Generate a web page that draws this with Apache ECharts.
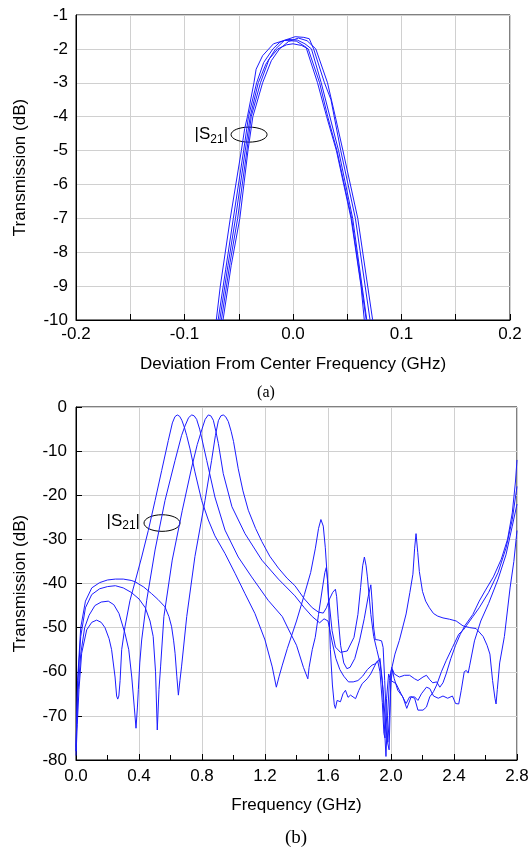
<!DOCTYPE html>
<html><head><meta charset="utf-8">
<script src="https://cdn.jsdelivr.net/npm/echarts/dist/echarts.min.js"></script>
<style>html,body{margin:0;padding:0;background:#fff}#c{width:532px;height:850px}</style>
</head><body><div id="c"></div>
<script>
// ---------- Panel (a): deviation from centre frequency (GHz) vs |S21| (dB) ----------
const topXLabelValues = [-0.2, -0.1, 0.0, 0.1, 0.2];
const topXLabels = ['-0.2', '-0.1', '0.0', '0.1', '0.2'];
const topYLabels = ['-1','-2','-3','-4','-5','-6','-7','-8','-9','-10'];

const topCurve1 = [[-0.0707,-10],[-0.067,-9],[-0.0578,-7],[-0.0476,-5],[-0.0445,-4.35],[-0.042,-4.0],[-0.036,-3.0],[-0.034,-2.6],[-0.028,-2.2],[-0.018,-1.85],[-0.008,-1.75],[0.003,-1.77],[0.012,-1.95],[0.0226,-3.0],[0.031,-4.0],[0.040,-5.0],[0.0535,-7.0],[0.0627,-9.0],[0.0657,-10]];
const topCurve2 = [[-0.069,-10],[-0.062,-8.5],[-0.055,-7],[-0.0455,-5],[-0.041,-4],[-0.0335,-3],[-0.027,-2.4],[-0.0185,-2.0],[-0.012,-1.8],[-0.005,-1.72],[0.004,-1.74],[0.011,-1.85],[0.017,-2.0],[0.026,-3.0],[0.034,-4.0],[0.042,-5.0],[0.055,-7.0],[0.068,-10]];
const topCurve3 = [[-0.0675,-10],[-0.060,-8.4],[-0.053,-7],[-0.044,-5],[-0.0395,-4],[-0.032,-3],[-0.025,-2.45],[-0.016,-2.0],[-0.008,-1.75],[0.002,-1.64],[0.010,-1.66],[0.015,-1.7],[0.019,-2.0],[0.029,-3.0],[0.035,-3.5],[0.044,-5.0],[0.0575,-7.0],[0.071,-10]];
const topCurve4 = [[-0.066,-10],[-0.058,-8.3],[-0.051,-7],[-0.0425,-5],[-0.0385,-4],[-0.030,-3],[-0.022,-2.3],[-0.014,-2.0],[-0.006,-1.88],[0.0,-1.85],[0.008,-1.9],[0.014,-2.0],[0.0245,-3.0],[0.032,-4.0],[0.0405,-5.0],[0.054,-7.0],[0.0675,-10]];
const topCurve5 = [[-0.0645,-10],[-0.057,-8.4],[-0.049,-7],[-0.0415,-5],[-0.037,-4],[-0.028,-3],[-0.020,-2.35],[-0.0124,-2.0],[-0.004,-1.78],[0.005,-1.68],[0.013,-1.76],[0.021,-2.0],[0.0318,-3.0],[0.039,-4.0],[0.046,-5.0],[0.0597,-7.0],[0.0734,-10]];

// ---------- Panel (b): frequency (GHz) vs |S21| (dB) ----------
const botXLabels = ['0.0','0.4','0.8','1.2','1.6','2.0','2.4','2.8'];
const botYLabels = ['0','-10','-20','-30','-40','-50','-60','-70','-80'];

const botCurveA = [[0.000,-79],[0.008,-72],[0.019,-64],[0.036,-55.8],[0.068,-50.5],[0.10,-48.8],[0.131,-48.3],[0.16,-48.8],[0.184,-50],[0.21,-52.5],[0.226,-55],[0.248,-61.2],[0.258,-65.5],[0.265,-66.2],[0.272,-65.5],[0.28,-62],[0.29,-55],[0.311,-49.8],[0.343,-43.8],[0.375,-39.6],[0.417,-34],[0.459,-28],[0.502,-21.2],[0.544,-14.4],[0.586,-7.6],[0.612,-3.6],[0.628,-2.2],[0.643,-1.8],[0.658,-2.1],[0.672,-3.0],[0.688,-4.6],[0.703,-6.5],[0.724,-9.5],[0.755,-14.7],[0.798,-21.2],[0.84,-25.6],[0.882,-29.2],[0.946,-33.2],[1.01,-37.7],[1.073,-42.3],[1.136,-46.8],[1.2,-52.8],[1.246,-58.9],[1.272,-63.5],[1.29,-61],[1.31,-58.5],[1.342,-54.7],[1.40,-48.5],[1.45,-42.5],[1.49,-37.5],[1.52,-32],[1.54,-27.5],[1.555,-25.5],[1.57,-27],[1.583,-31.9],[1.604,-43.2],[1.626,-50.7],[1.647,-54.4],[1.679,-55.6],[1.722,-55.3],[1.765,-52.2],[1.79,-47],[1.807,-40.9],[1.82,-36],[1.831,-34],[1.842,-36],[1.85,-38.5],[1.872,-47],[1.89,-52],[1.91,-55],[1.93,-58],[1.95,-64],[1.965,-72],[1.978,-76],[1.988,-77.7],[1.995,-68],[2.0,-60],[2.025,-56],[2.053,-52.9],[2.096,-46.9],[2.12,-42],[2.139,-37.9],[2.15,-32],[2.159,-28.7],[2.17,-33],[2.18,-37.3],[2.2,-41.8],[2.22,-44],[2.244,-45.5],[2.27,-46.8],[2.297,-47.4],[2.33,-47.8],[2.372,-48.1],[2.414,-48.5],[2.457,-49.6],[2.5,-50],[2.54,-50.2],[2.585,-52],[2.61,-54],[2.628,-56],[2.645,-62],[2.66,-66],[2.667,-67.3],[2.675,-64],[2.69,-58],[2.72,-52],[2.756,-41],[2.78,-35],[2.8,-28]];

const botCurveB = [[0.000,-77],[0.01,-66],[0.03,-56],[0.055,-50],[0.083,-47.2],[0.12,-45],[0.16,-44.2],[0.205,-44],[0.24,-44.8],[0.273,-46.8],[0.311,-51.3],[0.335,-55],[0.354,-61.2],[0.37,-68],[0.381,-72.8],[0.39,-68],[0.396,-64],[0.405,-58],[0.417,-52.8],[0.449,-43.8],[0.502,-32.4],[0.565,-21.2],[0.629,-12.1],[0.67,-6.5],[0.692,-4.3],[0.715,-2.4],[0.735,-1.8],[0.75,-2.0],[0.766,-2.8],[0.785,-5],[0.798,-7],[0.83,-12.1],[0.882,-20.4],[0.946,-27.9],[1.03,-34],[1.115,-38.5],[1.22,-43.8],[1.31,-47.5],[1.348,-50.3],[1.40,-54],[1.444,-59],[1.472,-61.6],[1.48,-59],[1.50,-55],[1.519,-52.2],[1.54,-47],[1.562,-41.7],[1.58,-37.5],[1.589,-36.4],[1.597,-39],[1.605,-45],[1.615,-55],[1.628,-63],[1.64,-67.5],[1.647,-68.3],[1.658,-66.5],[1.679,-66.8],[1.695,-65],[1.711,-64.2],[1.727,-65.8],[1.743,-65.3],[1.775,-66.1],[1.796,-64.2],[1.817,-62.7],[1.849,-61.6],[1.871,-60.5],[1.903,-58.2],[1.92,-57.5],[1.93,-57],[1.945,-62],[1.955,-70],[1.968,-79.2],[1.978,-70],[1.99,-62],[2.005,-59],[2.02,-61.5],[2.043,-64.2],[2.075,-65.7],[2.1,-68.3],[2.128,-65.7],[2.15,-66],[2.171,-68.7],[2.203,-68.7],[2.225,-68],[2.246,-65.7],[2.27,-64.5],[2.29,-63],[2.32,-60],[2.35,-57.5],[2.39,-54.5],[2.43,-51.5],[2.46,-50.5],[2.48,-49.5],[2.52,-47.5],[2.56,-45.5],[2.62,-42],[2.68,-37.5],[2.73,-32],[2.77,-25.5],[2.8,-18]];

const botCurveC = [[0.000,-78],[0.01,-63],[0.03,-52],[0.06,-45.5],[0.1,-42.5],[0.15,-41.2],[0.2,-40.7],[0.25,-40.5],[0.3,-41],[0.35,-42],[0.40,-43.5],[0.44,-45.5],[0.47,-48.5],[0.49,-52],[0.505,-60],[0.516,-73.2],[0.527,-64],[0.537,-58.9],[0.558,-47.5],[0.611,-34.7],[0.675,-23.4],[0.735,-13.6],[0.77,-8.5],[0.8,-5.0],[0.82,-2.8],[0.84,-1.8],[0.856,-2.0],[0.872,-3.0],[0.888,-5.5],[0.904,-8.3],[0.935,-15.1],[0.99,-22.6],[1.073,-28.7],[1.18,-34.7],[1.285,-39],[1.39,-42.8],[1.45,-45.5],[1.5,-47.5],[1.547,-48.9],[1.575,-48],[1.60,-48.5],[1.625,-53],[1.65,-57],[1.675,-59.5],[1.70,-61],[1.73,-62.3],[1.76,-62.3],[1.79,-62],[1.82,-61],[1.85,-59.5],[1.88,-58.5],[1.9,-58.2],[1.915,-57.5],[1.93,-60],[1.945,-67],[1.955,-74],[1.962,-75],[1.972,-66],[1.985,-60.5],[2.0,-62],[2.032,-62.7],[2.064,-65],[2.096,-67.2],[2.118,-65.7],[2.15,-65.7],[2.171,-66.5],[2.193,-65],[2.225,-63.5],[2.246,-63.8],[2.27,-65.5],[2.3,-66],[2.33,-65.5],[2.36,-66],[2.39,-65.5],[2.41,-67.2],[2.43,-67.3],[2.446,-64.2],[2.465,-60],[2.478,-59.7],[2.49,-60.3],[2.5,-58.5],[2.53,-53],[2.57,-48.5],[2.62,-44.5],[2.68,-39],[2.73,-33.5],[2.77,-27],[2.8,-22]];

const botCurveD = [[0.000,-78],[0.01,-62],[0.03,-50],[0.06,-44],[0.1,-41],[0.15,-39.8],[0.2,-39.2],[0.25,-39],[0.3,-39],[0.35,-39.3],[0.375,-39.6],[0.43,-40.8],[0.48,-42.3],[0.52,-43.6],[0.565,-45.3],[0.59,-47.5],[0.607,-49.8],[0.62,-53],[0.629,-55.8],[0.64,-61],[0.65,-65.3],[0.66,-62],[0.67,-58.9],[0.703,-47.5],[0.755,-33.9],[0.819,-21.2],[0.861,-12.1],[0.885,-6.5],[0.904,-3.1],[0.92,-2.0],[0.935,-1.8],[0.95,-2.2],[0.967,-3.3],[0.985,-5.5],[1.0,-7.8],[1.03,-14],[1.06,-19],[1.094,-23.4],[1.14,-27.5],[1.18,-30.5],[1.23,-33.8],[1.285,-36.5],[1.34,-38.8],[1.39,-40.5],[1.45,-43.5],[1.5,-45.5],[1.54,-46.5],[1.57,-46.7],[1.59,-45.5],[1.61,-43.5],[1.63,-42],[1.647,-41.3],[1.655,-43],[1.665,-48],[1.68,-54],[1.70,-58],[1.72,-59.3],[1.74,-59],[1.77,-57],[1.80,-53],[1.83,-48],[1.855,-43],[1.872,-40.3],[1.88,-44],[1.89,-50],[1.9,-52.7],[1.92,-52.8],[1.94,-53],[1.95,-54.5],[1.96,-62],[1.97,-70],[1.98,-76],[1.99,-70],[2.0,-62],[2.01,-59.5],[2.021,-60.5],[2.053,-61.2],[2.086,-60.8],[2.118,-60.8],[2.15,-61.6],[2.171,-62],[2.203,-61.2],[2.225,-60.8],[2.246,-61.8],[2.265,-62.5],[2.29,-62.3],[2.31,-63.5],[2.33,-62.5],[2.35,-60.5],[2.38,-57],[2.41,-54],[2.44,-51.5],[2.47,-49.5],[2.49,-48.5],[2.52,-47],[2.56,-44],[2.6,-41.5],[2.65,-38.5],[2.7,-34.5],[2.74,-30],[2.77,-24],[2.79,-17],[2.8,-12]];

const topSeries = [topCurve1, topCurve2, topCurve3, topCurve4, topCurve5];
const botSeries = [botCurveA, botCurveB, botCurveC, botCurveD];

const FONT = 'Arial, "Liberation Sans", Helvetica, sans-serif';
const SERIF = '"Times New Roman", "Liberation Serif", serif';
const BLUE = '#1c1cff';
const GRID = '#d0d0d0';
const TICKFS = 17;
const TITLEFS = 17;

function lineSeries(data, gi) {
  return { type: 'line', data: data, xAxisIndex: gi, yAxisIndex: gi, showSymbol: false, symbol: 'none',
    lineStyle: { color: BLUE, width: 1 }, itemStyle: { color: BLUE }, silent: true, clip: true };
}
function axisCommon() {
  return {
    axisLine: { show: true, onZero: false, lineStyle: { color: '#000', width: 1 } },
    splitLine: { show: true, lineStyle: { color: GRID, width: 1 } },
    nameTextStyle: { color: '#000', fontSize: TITLEFS, fontFamily: FONT }
  };
}

const chart = echarts.init(document.getElementById('c'), null, { renderer: 'canvas' });
const option = {
  animation: false,
  backgroundColor: '#fff',
  grid: [
    { left: 76, top: 15, width: 434, height: 305, show: true, borderColor: '#000', borderWidth: 1, backgroundColor: 'transparent' },
    { left: 76, top: 407, width: 441, height: 353, show: true, borderColor: '#000', borderWidth: 1, backgroundColor: 'transparent' }
  ],
  xAxis: [
    Object.assign(axisCommon(), {
      gridIndex: 0, type: 'value', min: -0.2, max: 0.2, interval: 0.05,
      axisTick: { show: true, inside: true, length: 6, lineStyle: { color: '#000' } },
      axisLabel: { margin: 6, color: '#000', fontSize: TICKFS, fontFamily: FONT,
        formatter: function (v) {
          for (let i = 0; i < topXLabelValues.length; i++) if (Math.abs(v - topXLabelValues[i]) < 1e-6) return topXLabels[i];
          return '';
        } },
      name: 'Deviation From Center Frequency (GHz)', nameLocation: 'middle', nameGap: 36
    }),
    Object.assign(axisCommon(), {
      gridIndex: 1, type: 'value', min: 0, max: 2.8, interval: 0.4,
      axisTick: { show: true, inside: true, length: 6, lineStyle: { color: '#000' } },
      minorTick: { show: true, splitNumber: 2, length: 5, lineStyle: { color: '#000' } },
      minorSplitLine: { show: false },
      axisLabel: { margin: 8, color: '#000', fontSize: TICKFS, fontFamily: FONT,
        formatter: function (v) { const i = Math.round(v / 0.4); return botXLabels[i] !== undefined ? botXLabels[i] : ''; } },
      name: 'Frequency (GHz)', nameLocation: 'middle', nameGap: 37
    })
  ],
  yAxis: [
    Object.assign(axisCommon(), {
      gridIndex: 0, type: 'value', min: -10, max: -1, interval: 1,
      axisTick: { show: false },
      axisLabel: { margin: 8, color: '#000', fontSize: TICKFS, fontFamily: FONT,
        formatter: function (v) { const i = Math.round(-1 - v); return topYLabels[i] !== undefined ? topYLabels[i] : ''; } },
      name: 'Transmission (dB)', nameLocation: 'middle', nameRotate: 90, nameGap: 47
    }),
    Object.assign(axisCommon(), {
      gridIndex: 1, type: 'value', min: -80, max: 0, interval: 10,
      axisTick: { show: true, inside: true, length: 6, lineStyle: { color: '#000' } },
      axisLabel: { margin: 9, color: '#000', fontSize: TICKFS, fontFamily: FONT,
        formatter: function (v) { const i = Math.round(-v / 10); return botYLabels[i] !== undefined ? botYLabels[i] : ''; } },
      name: 'Transmission (dB)', nameLocation: 'middle', nameRotate: 90, nameGap: 47
    })
  ],
  series: topSeries.map(d => lineSeries(d, 0)).concat(botSeries.map(d => lineSeries(d, 1)))
};
chart.setOption(option);

// annotations: |S21| label with ellipse, placed in data coordinates
const topNote = { ellipse: [-0.0405, -4.53], rx: 18, ry: 7.5 };
const botNote = { ellipse: [0.546, -26.3], rx: 18, ry: 8.3 };
const pTop = chart.convertToPixel({ gridIndex: 0 }, topNote.ellipse);
const pBot = chart.convertToPixel({ gridIndex: 1 }, botNote.ellipse);
function s21Text(x, y) {
  return { type: 'text', x: x, y: y, silent: true,
    style: { text: '{a||S}{b|21}{a||}', rich: {
      a: { fontSize: 17, fontFamily: FONT, fill: '#000', lineHeight: 20 },
      b: { fontSize: 12, fontFamily: FONT, fill: '#000', padding: [10, 0, 0, 0], lineHeight: 20 } },
      align: 'right', verticalAlign: 'middle' } };
}
chart.setOption({ graphic: [
  { type: 'ellipse', shape: { cx: pTop[0], cy: pTop[1], rx: topNote.rx, ry: topNote.ry }, style: { fill: 'none', stroke: '#000', lineWidth: 1 }, silent: true },
  s21Text(pTop[0] - topNote.rx - 3, pTop[1]),
  { type: 'ellipse', shape: { cx: pBot[0], cy: pBot[1], rx: botNote.rx, ry: botNote.ry }, style: { fill: 'none', stroke: '#000', lineWidth: 1 }, silent: true },
  s21Text(pBot[0] - botNote.rx - 4, pBot[1] - 2),
  { type: 'text', x: 266, y: 393, silent: true, style: { text: '(a)', font: '16px ' + SERIF, fill: '#000', align: 'center', verticalAlign: 'middle' } },
  { type: 'text', x: 296, y: 838, silent: true, style: { text: '(b)', font: '19px ' + SERIF, fill: '#000', align: 'center', verticalAlign: 'middle' } }
] });
</script>
</body></html>
